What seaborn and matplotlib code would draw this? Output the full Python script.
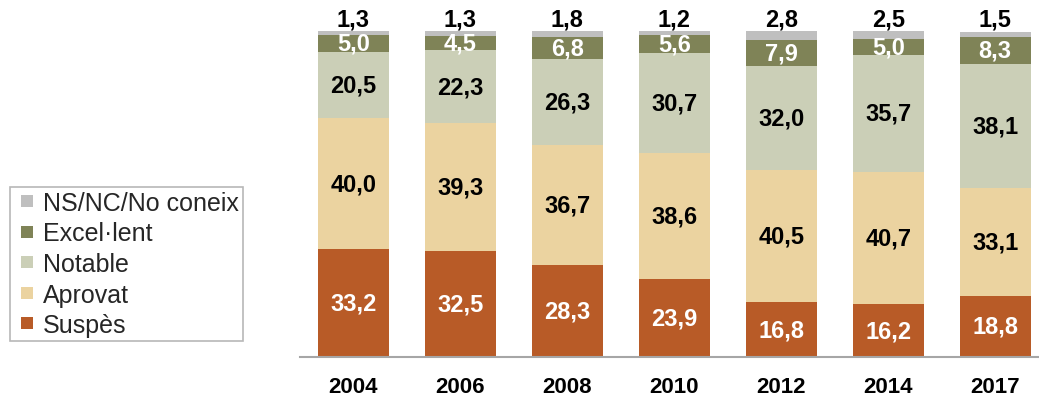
import numpy as np
import pandas as pd
import matplotlib
matplotlib.use('Agg')
import matplotlib.pyplot as plt
import seaborn as sns
from matplotlib.lines import Line2D

years = ['2004', '2006', '2008', '2010', '2012', '2014', '2017']
suspes = [33.2, 32.5, 28.3, 23.9, 16.8, 16.2, 18.8]
aprovat = [40.0, 39.3, 36.7, 38.6, 40.5, 40.7, 33.1]
notable = [20.5, 22.3, 26.3, 30.7, 32.0, 35.7, 38.1]
excellent = [5.0, 4.5, 6.8, 5.6, 7.9, 5.0, 8.3]
nsnc = [1.3, 1.3, 1.8, 1.2, 2.8, 2.5, 1.5]

series = ['Suspès', 'Aprovat', 'Notable', 'Excel·lent', 'NS/NC/No coneix']
values = [suspes, aprovat, notable, excellent, nsnc]
colors = ['#B85B27', '#EBD3A0', '#CBCFB7', '#7F8357', '#BFBFBF']
text_colors = ['white', 'black', 'black', 'white', 'black']

sns.set_style('white')
plt.rcParams['font.family'] = ['Liberation Sans', 'DejaVu Sans']

df = pd.DataFrame(dict(zip(series, values)), index=years)
cum = df.cumsum(axis=1)

fig = plt.figure(figsize=(10.39, 4.02), dpi=100)
ax = fig.add_axes([300 / 1039, 44 / 402, 739 / 1039, 326 / 402])

# stacked bars: draw cumulative totals from top down
for i in range(len(series) - 1, -1, -1):
    d = pd.DataFrame({'year': years, 'val': cum[series[i]].values})
    sns.barplot(data=d, x='year', y='val', color=colors[i], width=0.665,
                saturation=1, ax=ax, linewidth=0)

# value labels
for j, yr in enumerate(years):
    for i, s in enumerate(series):
        v = df.loc[yr, s]
        lab = f'{v:.1f}'.replace('.', ',')
        if i == len(series) - 1:
            ax.text(j, cum.loc[yr, s] + 0.2, lab, ha='center', va='bottom',
                    fontsize=17, fontweight='bold', color='black')
        else:
            mid = cum.loc[yr, s] - v / 2
            ax.text(j, mid, lab, ha='center', va='center',
                    fontsize=17, fontweight='bold', color=text_colors[i])

ax.set_xlim(-0.5, 6.41)
ax.set_ylim(0, 100)
ax.set_xlabel('')
ax.set_ylabel('')
ax.set_yticks([])
ax.tick_params(axis='x', length=0, pad=14, labelsize=16, labelcolor='black')
for t in ax.get_xticklabels():
    t.set_fontweight('bold')
for sp in ['top', 'right', 'left']:
    ax.spines[sp].set_visible(False)
ax.spines['bottom'].set_color('#A6A6A6')
ax.spines['bottom'].set_linewidth(1.5)

handles = [Line2D([], [], marker='s', linestyle='', markersize=8.6, markeredgewidth=0,
                  markerfacecolor=colors[i], label=series[i])
           for i in range(len(series) - 1, -1, -1)]
leg = fig.legend(handles=handles, loc='upper left', bbox_to_anchor=(10 / 1039, 1 - 188 / 402),
                 frameon=True, fontsize=18, handlelength=1.05,
                 handletextpad=0.1, labelspacing=0.26, borderpad=0.16, borderaxespad=0,
                 fancybox=False)
leg.get_frame().set_edgecolor('#A6A6A6')
leg.get_frame().set_linewidth(1.2)

fig.savefig('out.png', dpi=100)
